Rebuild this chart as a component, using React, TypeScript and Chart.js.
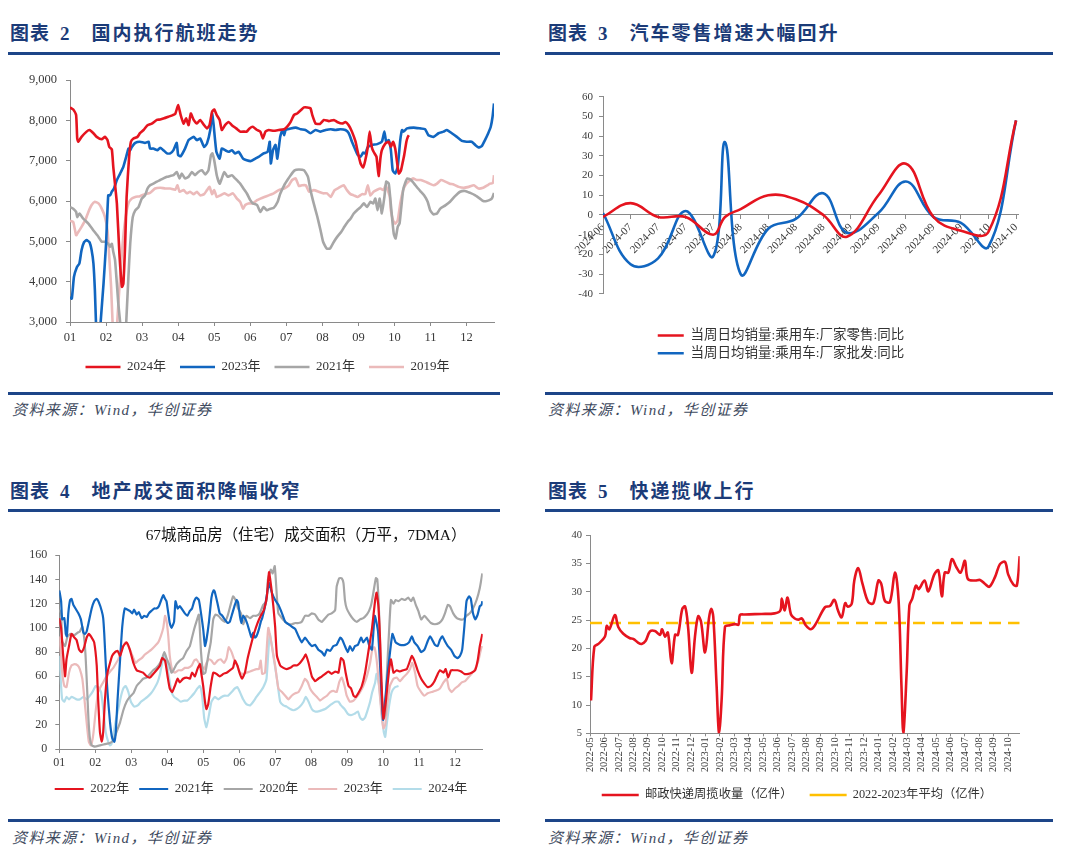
import React, { useEffect, useRef } from 'react';
import { Chart, registerables } from 'chart.js';

Chart.register(...registerables);

// ---------------- Data: 国内执行航班 (x = month offset from 01, y = flights) ----------------
const MONTH_TICKS = ['01', '02', '03', '04', '05', '06', '07', '08', '09', '10', '11', '12'];
const FLIGHT_NAMES = ['2024年', '2023年', '2021年', '2019年'];
const FLIGHTS_2024: [number, number][] = [
  [0, 8320], [0.09, 8270], [0.17, 8130], [0.2, 7550], [0.23, 7470], [0.32, 7590], [0.46, 7720], [0.54, 7760], [0.65, 7680], [0.74, 7590], [0.88, 7530], [0.97, 7590], [1.04, 7510], [1.09, 7340], [1.16, 7280], [1.2, 6850], [1.3, 5940], [1.37, 4700], [1.44, 3870], [1.48, 3950], [1.53, 4950], [1.57, 6100], [1.64, 7100], [1.69, 7470], [1.76, 7550], [1.87, 7590], [1.94, 7680], [2.04, 7760], [2.15, 7880], [2.27, 7920], [2.41, 8010], [2.5, 8020], [2.61, 8050], [2.73, 8090], [2.85, 8130], [2.92, 8160], [3.0, 8380], [3.07, 8130], [3.15, 7920], [3.22, 8050], [3.29, 7880], [3.35, 8170], [3.43, 8010], [3.52, 7920], [3.61, 8010], [3.72, 7880], [3.8, 7800], [3.87, 7880], [3.94, 8210], [4.0, 8270], [4.07, 8130], [4.15, 8010], [4.21, 7760], [4.3, 7880], [4.4, 7960], [4.49, 7880], [4.61, 7800], [4.72, 7720], [4.83, 7720], [4.9, 7720], [4.98, 7800], [5.07, 7840], [5.19, 7760], [5.28, 7720], [5.35, 7550], [5.42, 7720], [5.51, 7760], [5.65, 7740], [5.79, 7760], [5.94, 7780], [6.03, 7850], [6.12, 7960], [6.21, 8130], [6.3, 8170], [6.4, 8250], [6.49, 8320], [6.58, 8320], [6.67, 8300], [6.72, 8130], [6.81, 7920], [6.93, 7910], [7.04, 8010], [7.18, 7980], [7.32, 8010], [7.41, 7960], [7.55, 7920], [7.64, 7960], [7.73, 7880], [7.82, 7720], [7.92, 7470], [7.98, 7220], [8.06, 6930], [8.13, 6830], [8.19, 7010], [8.26, 7340], [8.31, 7720], [8.37, 7340], [8.42, 7220], [8.5, 7100], [8.56, 6620], [8.61, 7060], [8.65, 7260], [8.75, 7430], [8.84, 7470], [8.9, 7340], [8.96, 7470], [9.02, 7300], [9.07, 6970], [9.12, 6680], [9.18, 6760], [9.24, 7010], [9.27, 7140], [9.33, 7470], [9.37, 7590], [9.4, 7630],
];
const FLIGHTS_2023: [number, number][] = [
  [0, 3620], [0.05, 3580], [0.11, 4120], [0.19, 4360], [0.26, 4450], [0.32, 4780], [0.39, 4980], [0.46, 5030], [0.54, 4980], [0.6, 4780], [0.65, 4450], [0.69, 3790], [0.72, 3000], [0.76, 2400], [0.82, 2400], [0.85, 3000], [0.93, 3950], [1.0, 4940], [1.06, 6140], [1.11, 6140], [1.16, 6230], [1.22, 6310], [1.3, 6520], [1.39, 6680], [1.48, 6850], [1.56, 7100], [1.62, 7300], [1.67, 7260], [1.71, 7330], [1.81, 7440], [1.94, 7470], [2.08, 7440], [2.18, 7470], [2.22, 7300], [2.31, 7300], [2.43, 7260], [2.5, 7320], [2.59, 7260], [2.69, 7180], [2.78, 7180], [2.87, 7260], [2.96, 7440], [3.0, 7140], [3.07, 7110], [3.19, 7300], [3.29, 7510], [3.43, 7590], [3.52, 7510], [3.61, 7550], [3.72, 7340], [3.8, 7430], [3.89, 7760], [3.94, 8170], [3.98, 7920], [4.06, 7220], [4.15, 7050], [4.21, 7300], [4.3, 7260], [4.4, 7220], [4.49, 7260], [4.58, 7180], [4.68, 7220], [4.8, 7050], [4.9, 7010], [5.02, 6990], [5.14, 7050], [5.26, 7110], [5.37, 7180], [5.48, 7220], [5.54, 7470], [5.57, 6930], [5.63, 7260], [5.7, 7390], [5.75, 7050], [5.83, 7590], [5.89, 7760], [5.94, 7630], [5.98, 7760], [6.12, 7800], [6.26, 7820], [6.4, 7780], [6.53, 7760], [6.67, 7680], [6.81, 7760], [6.95, 7720], [7.09, 7760], [7.23, 7780], [7.36, 7760], [7.5, 7780], [7.64, 7760], [7.73, 7680], [7.82, 7470], [7.92, 7260], [7.98, 7140], [8.06, 7100], [8.13, 7200], [8.19, 7180], [8.26, 7340], [8.38, 7390], [8.52, 7410], [8.65, 7470], [8.72, 7720], [8.77, 7470], [8.84, 7510], [8.9, 7260], [8.95, 6760], [9.02, 6680], [9.09, 6850], [9.16, 7510], [9.21, 7760], [9.25, 7720], [9.35, 7800], [9.53, 7820], [9.71, 7800], [9.85, 7780], [9.94, 7630], [10.08, 7590], [10.22, 7680], [10.36, 7720], [10.45, 7760], [10.59, 7680], [10.73, 7590], [10.87, 7490], [11.0, 7470], [11.14, 7470], [11.24, 7390], [11.33, 7330], [11.42, 7360], [11.51, 7510], [11.6, 7680], [11.67, 7840], [11.72, 8090], [11.76, 8420],
];
const FLIGHTS_2021: [number, number][] = [
  [0, 5850], [0.09, 5810], [0.17, 5730], [0.2, 5600], [0.26, 5690], [0.37, 5560], [0.51, 5440], [0.65, 5270], [0.79, 5110], [0.88, 4990], [0.97, 4990], [1.06, 4940], [1.11, 4860], [1.16, 4940], [1.2, 4740], [1.25, 4530], [1.3, 3950], [1.34, 3450], [1.39, 3000], [1.45, 2400], [1.52, 2400], [1.56, 3000], [1.62, 4120], [1.67, 4940], [1.74, 5600], [1.81, 5770], [1.9, 5850], [1.99, 6060], [2.08, 6140], [2.15, 6310], [2.22, 6390], [2.31, 6430], [2.41, 6480], [2.5, 6520], [2.59, 6560], [2.69, 6600], [2.78, 6620], [2.87, 6640], [2.96, 6720], [3.04, 6560], [3.1, 6680], [3.19, 6560], [3.29, 6600], [3.38, 6720], [3.47, 6640], [3.56, 6720], [3.66, 6760], [3.75, 6660], [3.84, 6760], [3.91, 7140], [3.95, 7180], [4.0, 7010], [4.07, 6640], [4.15, 6430], [4.21, 6560], [4.28, 6720], [4.37, 6600], [4.49, 6640], [4.58, 6560], [4.72, 6430], [4.81, 6310], [4.91, 6180], [5.0, 6020], [5.07, 5940], [5.19, 5900], [5.28, 5730], [5.37, 5850], [5.46, 5770], [5.56, 5810], [5.65, 5830], [5.76, 5980], [5.83, 6180], [5.94, 6390], [6.03, 6520], [6.12, 6640], [6.23, 6760], [6.35, 6780], [6.49, 6760], [6.6, 6600], [6.67, 6270], [6.76, 5940], [6.86, 5610], [6.95, 5270], [7.02, 4990], [7.12, 4820], [7.21, 4820], [7.32, 4990], [7.41, 5110], [7.52, 5230], [7.61, 5360], [7.7, 5480], [7.78, 5560], [7.87, 5690], [7.96, 5770], [8.06, 5850], [8.15, 5940], [8.24, 5850], [8.33, 5980], [8.41, 5940], [8.47, 6060], [8.53, 5770], [8.59, 6060], [8.65, 5690], [8.72, 6100], [8.77, 6480], [8.84, 6430], [8.88, 6100], [8.93, 5610], [8.98, 5190], [9.03, 5070], [9.09, 5360], [9.14, 5440], [9.18, 5770], [9.24, 6270], [9.29, 6430], [9.36, 6560], [9.46, 6520], [9.58, 6390], [9.71, 6250], [9.82, 6140], [9.92, 5980], [9.99, 5770], [10.08, 5670], [10.18, 5690], [10.27, 5810], [10.41, 5890], [10.54, 5980], [10.68, 6120], [10.82, 6230], [10.96, 6250], [11.1, 6200], [11.24, 6140], [11.37, 6060], [11.46, 6000], [11.56, 6000], [11.63, 6020], [11.7, 6060], [11.76, 6200],
];
const FLIGHTS_2019: [number, number][] = [
  [0, 5510], [0.09, 5480], [0.17, 5150], [0.23, 5230], [0.32, 5360], [0.42, 5520], [0.51, 5730], [0.6, 5900], [0.69, 5980], [0.79, 5940], [0.88, 5810], [0.97, 5600], [1.04, 5270], [1.09, 4610], [1.14, 3870], [1.18, 3000], [1.22, 2400], [1.28, 2400], [1.31, 3000], [1.39, 4120], [1.46, 4940], [1.53, 5520], [1.62, 5940], [1.71, 6060], [1.81, 6100], [1.94, 6120], [2.08, 6170], [2.22, 6200], [2.36, 6310], [2.5, 6330], [2.64, 6310], [2.78, 6310], [2.92, 6280], [2.98, 6390], [3.04, 6230], [3.15, 6270], [3.24, 6190], [3.33, 6230], [3.43, 6170], [3.52, 6230], [3.61, 6140], [3.72, 6170], [3.8, 6270], [3.87, 6350], [3.94, 6170], [4.0, 6270], [4.07, 6100], [4.17, 6140], [4.28, 6190], [4.4, 6140], [4.52, 6190], [4.63, 6060], [4.72, 5980], [4.8, 5810], [4.86, 5900], [4.95, 5940], [5.07, 5940], [5.19, 6020], [5.28, 6060], [5.39, 6100], [5.51, 6140], [5.65, 6190], [5.79, 6270], [5.94, 6310], [6.07, 6390], [6.16, 6520], [6.26, 6560], [6.35, 6370], [6.44, 6390], [6.54, 6390], [6.63, 6230], [6.76, 6270], [6.9, 6230], [7.02, 6190], [7.13, 6190], [7.23, 6100], [7.34, 6270], [7.46, 6330], [7.59, 6390], [7.68, 6270], [7.78, 6170], [7.87, 6140], [7.98, 6100], [8.1, 6170], [8.19, 6170], [8.26, 6390], [8.33, 6140], [8.42, 6230], [8.52, 6280], [8.61, 6310], [8.7, 6270], [8.75, 6390], [8.81, 6270], [8.87, 6100], [8.9, 5770], [8.96, 5520], [9.02, 5440], [9.09, 5520], [9.16, 5940], [9.24, 6270], [9.3, 6390], [9.39, 6480], [9.51, 6560], [9.62, 6520], [9.73, 6520], [9.85, 6480], [9.97, 6430], [10.08, 6390], [10.18, 6430], [10.29, 6520], [10.41, 6480], [10.53, 6430], [10.64, 6410], [10.78, 6350], [10.92, 6330], [11.06, 6350], [11.2, 6390], [11.33, 6310], [11.46, 6330], [11.58, 6390], [11.65, 6430], [11.73, 6450], [11.76, 6640],
];

// ---------------- Data: 汽车零售 (x = weekly tick offset) ----------------
const CAR_WEEK_TICKS = ['2024-06', '2024-07', '2024-07', '2024-07', '2024-07', '2024-08', '2024-08', '2024-08', '2024-08', '2024-09', '2024-09', '2024-09', '2024-09', '2024-09', '2024-10', '2024-10'];
const CAR_NAMES = ['当周日均销量:乘用车:厂家零售:同比', '当周日均销量:乘用车:厂家批发:同比'];
const CAR_X = [0, 1, 2, 3, 4, 4.43, 5, 6, 7, 8, 8.86, 10, 11, 12, 13, 14, 15];
const CAR_RETAIL_YOY = [-1, 6, -1, -1, -10, -1, 3, 10, 8, 0, -11, 10, 26, -1, -8, -8.5, 48];
const CAR_WHOLESALE_YOY = [1, -25, -22, 2, -21, 37, -30, -7, -2, 11, -9, 1, 17, -1, -4, -16, 48];

// ---------------- Data: 67城商品房成交面积 (x = month offset, y = 万平) ----------------
const AREA_NAMES = ['2022年', '2021年', '2020年', '2023年', '2024年'];
const AREA_2022: [number, number][] = [
  [0, 108], [0.05, 100], [0.1, 80], [0.16, 60], [0.2, 74], [0.27, 85], [0.34, 95], [0.42, 92], [0.48, 90], [0.55, 82], [0.62, 80], [0.69, 84], [0.76, 92], [0.82, 95], [0.9, 92], [0.97, 88], [1.04, 69], [1.08, 41], [1.13, 14], [1.18, 6], [1.22, 14], [1.27, 41], [1.34, 63], [1.41, 71], [1.47, 77], [1.55, 80], [1.62, 81], [1.69, 77], [1.78, 85], [1.87, 88], [1.96, 82], [2.06, 71], [2.15, 65], [2.24, 64], [2.33, 63], [2.43, 60], [2.52, 59], [2.61, 62], [2.7, 65], [2.8, 69], [2.86, 75], [2.94, 73], [3.01, 60], [3.07, 50], [3.14, 47], [3.21, 52], [3.29, 58], [3.35, 55], [3.44, 58], [3.54, 59], [3.63, 58], [3.69, 63], [3.77, 60], [3.84, 66], [3.91, 70], [3.95, 62], [4.0, 52], [4.05, 39], [4.09, 33], [4.14, 37], [4.21, 52], [4.28, 63], [4.37, 62], [4.46, 60], [4.56, 62], [4.65, 63], [4.74, 65], [4.83, 67], [4.88, 73], [4.95, 69], [5.02, 62], [5.08, 58], [5.16, 63], [5.23, 74], [5.32, 85], [5.42, 96], [5.51, 104], [5.6, 110], [5.69, 115], [5.77, 126], [5.83, 146], [5.89, 134], [5.95, 118], [6.0, 101], [6.05, 77], [6.14, 69], [6.23, 67], [6.32, 66], [6.42, 67], [6.51, 69], [6.6, 69], [6.69, 71], [6.79, 75], [6.85, 78], [6.93, 71], [7.02, 60], [7.11, 56], [7.2, 58], [7.3, 60], [7.39, 62], [7.48, 64], [7.57, 62], [7.67, 64], [7.76, 63], [7.83, 75], [7.9, 73], [7.96, 63], [8.04, 52], [8.11, 50], [8.18, 44], [8.24, 43], [8.31, 46], [8.41, 52], [8.5, 63], [8.59, 80], [8.69, 99], [8.78, 123], [8.82, 129], [8.87, 118], [8.92, 88], [8.96, 52], [9.01, 25], [9.08, 40], [9.17, 66], [9.22, 74], [9.29, 63], [9.38, 65], [9.47, 64], [9.56, 65], [9.66, 66], [9.75, 73], [9.8, 77], [9.87, 73], [9.96, 65], [10.06, 58], [10.15, 54], [10.24, 51], [10.33, 52], [10.43, 56], [10.52, 62], [10.58, 65], [10.68, 63], [10.74, 66], [10.81, 59], [10.89, 65], [10.98, 65], [11.07, 65], [11.17, 64], [11.26, 62], [11.37, 62], [11.46, 63], [11.56, 65], [11.63, 73], [11.69, 85], [11.76, 95],
];
const AREA_2021: [number, number][] = [
  [0, 131], [0.05, 122], [0.08, 107], [0.14, 108], [0.18, 95], [0.21, 93], [0.25, 112], [0.3, 123], [0.34, 124], [0.39, 119], [0.45, 116], [0.53, 112], [0.6, 107], [0.67, 96], [0.71, 95], [0.76, 97], [0.82, 105], [0.9, 116], [0.97, 122], [1.04, 124], [1.1, 121], [1.18, 114], [1.22, 108], [1.25, 95], [1.29, 71], [1.34, 47], [1.41, 22], [1.47, 9], [1.53, 6], [1.57, 14], [1.62, 41], [1.69, 74], [1.75, 101], [1.82, 116], [1.9, 115], [1.96, 114], [2.03, 112], [2.08, 115], [2.15, 111], [2.21, 113], [2.29, 108], [2.36, 110], [2.43, 109], [2.49, 112], [2.56, 114], [2.64, 116], [2.7, 116], [2.77, 118], [2.82, 122], [2.89, 127], [2.94, 124], [2.98, 122], [3.03, 112], [3.07, 104], [3.12, 100], [3.19, 105], [3.23, 122], [3.29, 116], [3.35, 118], [3.42, 115], [3.49, 112], [3.56, 110], [3.63, 114], [3.69, 116], [3.75, 122], [3.81, 125], [3.88, 123], [3.94, 112], [4.0, 99], [4.05, 85], [4.09, 90], [4.16, 105], [4.23, 125], [4.29, 131], [4.32, 130], [4.4, 120], [4.46, 112], [4.53, 110], [4.6, 107], [4.68, 104], [4.74, 105], [4.81, 112], [4.88, 119], [4.93, 123], [4.97, 121], [5.02, 110], [5.06, 104], [5.11, 110], [5.18, 107], [5.23, 103], [5.3, 96], [5.34, 92], [5.39, 96], [5.44, 92], [5.48, 93], [5.55, 99], [5.6, 105], [5.64, 108], [5.72, 118], [5.83, 137], [5.91, 129], [6.0, 123], [6.09, 119], [6.19, 112], [6.28, 105], [6.37, 103], [6.46, 101], [6.56, 99], [6.65, 93], [6.74, 88], [6.83, 92], [6.93, 88], [7.02, 85], [7.11, 86], [7.2, 82], [7.3, 80], [7.37, 77], [7.44, 82], [7.53, 81], [7.62, 85], [7.71, 86], [7.81, 92], [7.87, 90], [7.94, 85], [8.02, 80], [8.08, 85], [8.15, 81], [8.22, 85], [8.3, 86], [8.39, 92], [8.45, 88], [8.55, 92], [8.61, 86], [8.69, 82], [8.77, 110], [8.86, 97], [8.95, 51], [9.0, 24], [9.12, 60], [9.26, 95], [9.35, 88], [9.47, 86], [9.61, 86], [9.72, 88], [9.8, 93], [9.87, 88], [9.96, 85], [10.06, 80], [10.15, 82], [10.24, 89], [10.31, 93], [10.37, 90], [10.44, 86], [10.52, 85], [10.58, 90], [10.65, 93], [10.72, 89], [10.8, 85], [10.89, 82], [10.98, 77], [11.07, 75], [11.14, 77], [11.2, 82], [11.26, 101], [11.32, 122], [11.39, 126], [11.44, 124], [11.5, 112], [11.56, 107], [11.63, 111], [11.69, 118], [11.74, 119], [11.76, 122],
];
const AREA_2020: [number, number][] = [
  [0, 115], [0.05, 112], [0.08, 89], [0.16, 85], [0.23, 93], [0.32, 95], [0.42, 94], [0.51, 96], [0.57, 97], [0.64, 101], [0.69, 92], [0.73, 77], [0.77, 52], [0.81, 25], [0.85, 9], [0.9, 3], [0.99, 2], [1.13, 3], [1.27, 4], [1.41, 5], [1.5, 7], [1.59, 14], [1.69, 22], [1.78, 32], [1.87, 39], [1.96, 43], [2.06, 46], [2.15, 52], [2.24, 55], [2.33, 58], [2.43, 59], [2.52, 62], [2.61, 65], [2.7, 67], [2.8, 71], [2.86, 75], [2.92, 80], [2.98, 75], [3.05, 70], [3.12, 63], [3.19, 66], [3.26, 70], [3.35, 73], [3.44, 75], [3.54, 81], [3.63, 85], [3.69, 92], [3.75, 99], [3.81, 105], [3.88, 111], [3.94, 80], [4.0, 62], [4.06, 63], [4.14, 77], [4.21, 88], [4.28, 107], [4.34, 111], [4.42, 110], [4.51, 107], [4.6, 105], [4.68, 110], [4.77, 120], [4.83, 126], [4.9, 123], [4.97, 116], [5.05, 112], [5.11, 103], [5.2, 110], [5.3, 108], [5.39, 110], [5.48, 110], [5.57, 112], [5.67, 119], [5.76, 122], [5.8, 140], [5.88, 148], [5.93, 145], [5.99, 151], [6.05, 125], [6.09, 112], [6.19, 108], [6.28, 105], [6.37, 103], [6.46, 103], [6.56, 104], [6.65, 104], [6.74, 105], [6.83, 110], [6.93, 110], [7.02, 112], [7.11, 111], [7.2, 107], [7.3, 105], [7.39, 108], [7.48, 111], [7.57, 112], [7.67, 115], [7.71, 134], [7.78, 141], [7.85, 141], [7.9, 137], [7.94, 123], [7.99, 116], [8.08, 111], [8.18, 107], [8.27, 105], [8.36, 107], [8.45, 108], [8.55, 111], [8.61, 114], [8.67, 119], [8.73, 129], [8.8, 141], [8.84, 140], [8.89, 112], [8.94, 63], [9.01, 25], [9.06, 28], [9.1, 58], [9.17, 99], [9.22, 123], [9.29, 120], [9.35, 123], [9.43, 122], [9.52, 124], [9.61, 123], [9.7, 125], [9.78, 122], [9.84, 125], [9.91, 119], [9.98, 114], [10.06, 107], [10.15, 110], [10.24, 107], [10.33, 104], [10.44, 103], [10.56, 104], [10.65, 107], [10.72, 112], [10.8, 119], [10.86, 118], [10.95, 112], [11.05, 108], [11.14, 107], [11.23, 107], [11.32, 110], [11.41, 112], [11.5, 116], [11.6, 123], [11.69, 133], [11.76, 145],
];
const AREA_2023: [number, number][] = [
  [0, 93], [0.05, 77], [0.08, 63], [0.14, 52], [0.2, 51], [0.27, 63], [0.34, 69], [0.42, 70], [0.51, 69], [0.57, 66], [0.64, 58], [0.69, 44], [0.76, 22], [0.82, 6], [0.88, 3], [0.94, 11], [1.01, 31], [1.08, 47], [1.16, 52], [1.22, 55], [1.29, 59], [1.36, 62], [1.44, 65], [1.5, 67], [1.56, 70], [1.64, 74], [1.71, 80], [1.78, 85], [1.84, 88], [1.92, 85], [2.06, 75], [2.12, 71], [2.19, 73], [2.29, 75], [2.38, 78], [2.47, 80], [2.56, 82], [2.66, 85], [2.75, 88], [2.82, 93], [2.89, 100], [2.94, 110], [2.98, 106], [3.03, 93], [3.07, 77], [3.14, 65], [3.21, 63], [3.31, 65], [3.4, 65], [3.49, 67], [3.58, 67], [3.68, 69], [3.75, 73], [3.81, 74], [3.88, 71], [3.95, 69], [4.03, 66], [4.09, 71], [4.16, 74], [4.23, 73], [4.31, 70], [4.4, 73], [4.49, 74], [4.58, 71], [4.65, 75], [4.71, 84], [4.79, 80], [4.86, 74], [4.93, 70], [5.02, 63], [5.11, 62], [5.2, 63], [5.3, 64], [5.39, 65], [5.48, 66], [5.55, 66], [5.6, 73], [5.64, 62], [5.72, 63], [5.81, 100], [5.91, 85], [6.0, 69], [6.09, 50], [6.19, 47], [6.28, 44], [6.37, 41], [6.46, 44], [6.56, 46], [6.65, 47], [6.74, 52], [6.83, 58], [6.91, 55], [6.97, 50], [7.06, 46], [7.16, 43], [7.25, 40], [7.34, 42], [7.44, 44], [7.53, 47], [7.62, 48], [7.71, 47], [7.78, 55], [7.85, 59], [7.93, 52], [7.99, 44], [8.08, 39], [8.18, 40], [8.27, 43], [8.36, 47], [8.45, 52], [8.55, 60], [8.64, 71], [8.7, 82], [8.76, 84], [8.82, 74], [8.89, 52], [8.96, 28], [9.01, 17], [9.06, 20], [9.13, 39], [9.19, 52], [9.29, 58], [9.38, 59], [9.47, 56], [9.56, 59], [9.66, 62], [9.75, 66], [9.81, 71], [9.89, 63], [9.96, 52], [10.06, 47], [10.15, 44], [10.24, 46], [10.35, 47], [10.46, 48], [10.58, 50], [10.68, 55], [10.77, 58], [10.83, 50], [10.91, 47], [11.0, 50], [11.09, 52], [11.19, 55], [11.28, 56], [11.37, 59], [11.46, 62], [11.56, 66], [11.65, 73], [11.72, 82], [11.76, 85],
];
const AREA_2024: [number, number][] = [
  [0, 77], [0.05, 52], [0.08, 41], [0.14, 39], [0.2, 43], [0.27, 41], [0.34, 43], [0.42, 42], [0.48, 41], [0.57, 41], [0.67, 43], [0.76, 41], [0.85, 44], [0.94, 48], [1.01, 52], [1.08, 51], [1.16, 47], [1.22, 33], [1.29, 14], [1.36, 6], [1.41, 3], [1.45, 4], [1.5, 11], [1.56, 22], [1.64, 33], [1.71, 43], [1.78, 50], [1.84, 52], [1.92, 47], [1.99, 39], [2.08, 35], [2.18, 36], [2.27, 39], [2.36, 41], [2.45, 43], [2.55, 46], [2.64, 50], [2.73, 55], [2.8, 62], [2.86, 71], [2.92, 77], [2.98, 73], [3.05, 59], [3.12, 47], [3.19, 43], [3.29, 41], [3.38, 39], [3.47, 40], [3.56, 40], [3.66, 43], [3.75, 46], [3.84, 50], [3.91, 52], [3.97, 44], [4.03, 25], [4.09, 18], [4.16, 28], [4.23, 39], [4.32, 43], [4.42, 41], [4.51, 43], [4.6, 44], [4.69, 44], [4.79, 47], [4.88, 50], [4.95, 51], [5.02, 47], [5.11, 41], [5.2, 37], [5.3, 36], [5.39, 39], [5.48, 43], [5.58, 47], [5.67, 51], [5.76, 58], [5.85, 95], [5.95, 77], [6.05, 58], [6.14, 39], [6.23, 36], [6.32, 35], [6.42, 33], [6.51, 32], [6.6, 33], [6.69, 35], [6.79, 39], [6.85, 43], [6.93, 39], [7.02, 33], [7.11, 31], [7.2, 31], [7.3, 32], [7.39, 33], [7.48, 35], [7.57, 37], [7.67, 39], [7.76, 39], [7.83, 36], [7.93, 33], [8.02, 29], [8.11, 28], [8.2, 29], [8.3, 31], [8.36, 26], [8.43, 24], [8.5, 26], [8.57, 32], [8.64, 39], [8.7, 47], [8.78, 55], [8.82, 62], [8.89, 52], [8.96, 31], [9.02, 14], [9.06, 10], [9.1, 20], [9.17, 36], [9.24, 47], [9.33, 51], [9.43, 52],
];

// ---------------- Data: 快递揽收 (x = month offset from 2022-05, y = 亿件) ----------------
const EXPRESS_MONTH_TICKS = [
  '2022-05', '2022-06', '2022-07', '2022-08', '2022-09', '2022-10', '2022-11', '2022-12',
  '2023-01', '2023-02', '2023-03', '2023-04', '2023-05', '2023-06', '2023-07', '2023-08', '2023-09', '2023-10', '2023-11', '2023-12',
  '2024-01', '2024-02', '2024-03', '2024-04', '2024-05', '2024-06', '2024-07', '2024-08', '2024-09', '2024-10',
];
const EXPRESS_NAMES = ['邮政快递周揽收量（亿件）', '2022-2023年平均（亿件）'];
const EXPRESS_WEEKLY: [number, number][] = [
  [0.07, 10.8], [0.3, 20.3], [0.58, 20.8], [1.04, 22.1], [1.16, 24.0], [1.34, 23.4], [1.73, 25.9], [1.96, 23.8], [2.31, 22.6], [2.77, 21.8], [3.0, 21.7], [3.35, 21.0], [3.58, 20.8], [3.85, 21.3], [4.16, 23.0], [4.5, 23.1], [4.85, 22.4], [5.0, 23.4], [5.2, 22.1], [5.4, 22.8], [5.66, 17.4], [5.9, 22.4], [6.1, 22.4], [6.4, 27.0], [6.6, 27.4], [6.8, 23.8], [7.05, 15.7], [7.28, 22.1], [7.5, 25.7], [7.7, 24.7], [7.98, 19.3], [8.25, 25.3], [8.4, 27.0], [8.55, 25.6], [8.78, 13.4], [8.95, 5.0], [9.13, 11.0], [9.36, 23.8], [9.7, 24.1], [10.06, 24.3], [10.3, 24.2], [10.4, 25.9], [10.75, 26.0], [11.9, 26.1], [12.8, 26.2], [13.2, 26.7], [13.3, 28.8], [13.5, 26.7], [13.7, 29.0], [13.94, 26.0], [14.2, 25.3], [14.45, 25.1], [14.7, 25.3], [14.96, 24.1], [15.3, 23.4], [15.6, 24.1], [16.3, 27.3], [16.64, 27.5], [16.95, 28.6], [17.2, 26.7], [17.45, 25.5], [17.7, 28.0], [17.87, 27.4], [18.15, 27.9], [18.33, 32.0], [18.6, 34.2], [18.9, 31.4], [19.3, 28.2], [19.65, 28.0], [20.0, 32.0], [20.2, 31.4], [20.45, 28.4], [20.8, 28.2], [21.15, 33.4], [21.4, 28.5], [21.6, 13.4], [21.73, 5.0], [21.96, 15.7], [22.15, 27.6], [22.35, 28.8], [22.6, 31.1], [22.8, 30.5], [23.2, 32.0], [23.46, 30.1], [23.88, 33.1], [24.16, 33.8], [24.4, 29.2], [24.6, 33.4], [24.85, 33.4], [25.1, 35.8], [25.4, 34.4], [25.7, 33.4], [26.0, 35.5], [26.2, 32.3], [26.7, 32.0], [27.05, 32.1], [27.4, 31.4], [27.7, 30.9], [28.1, 32.7], [28.43, 34.9], [28.78, 35.3], [29.0, 33.1], [29.36, 31.3], [29.6, 31.1], [29.8, 36.3],
];
const EXPRESS_AVG_2022_2023 = 24.5;

// ---------------- Styling ----------------
const RED = '#E5141F';
const BLUE = '#1166C0';
const GRAY = '#A6A6A6';
const PINK = '#EBBABA';
const LIGHT_BLUE = '#B3DCE9';
const ORANGE = '#FFC000';
const AXIS_COLOR = '#8A8A8A';
const TICK_COLOR = '#3A3A3A';
const NUM_FONT = "'Liberation Serif', 'Times New Roman', serif";
const LEGEND_FONT = "'Liberation Serif', 'Noto Sans CJK SC', serif";
const TITLE_COLOR = '#1B3B78';
const RULE_COLOR = '#1D4588';

const xy = (pts: [number, number][]) => pts.map(([x, y]) => ({ x, y }));

const lineSet = (label: string, pts: { x: number; y: number }[], color: string, width: number, tension: number, extra: any = {}) => ({
  label,
  data: pts,
  borderColor: color,
  backgroundColor: color,
  borderWidth: width,
  pointRadius: 0,
  pointHoverRadius: 0,
  tension,
  fill: false,
  ...extra,
});

const tickGrid = (len: number) => ({
  display: true,
  drawOnChartArea: false,
  drawTicks: true,
  tickLength: len,
  color: AXIS_COLOR,
  lineWidth: 1,
});
const axisBorder = { display: true, color: AXIS_COLOR, width: 1 };

const legendOpts = (lineLen: number, fontSize: number, padding: number, extra: any = {}) => ({
  display: true,
  position: 'bottom',
  labels: {
    usePointStyle: true,
    pointStyle: 'line',
    pointStyleWidth: lineLen,
    color: '#333333',
    font: { family: LEGEND_FONT, size: fontSize },
    padding,
  },
  ...extra,
});

const fixedTicks = (labels: string[]) => (scale: any) => {
  scale.ticks = labels.map((_, i) => ({ value: i }));
};

// moves the (bottom) legend block sideways so it sits where the reference puts it
const legendShift = (dx: number) => ({
  id: 'legendShift',
  afterLayout(chart: any) {
    const lg = chart.legend;
    if (lg) {
      lg.left += dx;
      lg.right += dx;
    }
  },
});

// ---------------- Chart configs ----------------
const flightsConfig = (): any => ({
  type: 'line',
  data: {
    datasets: [
      lineSet(FLIGHT_NAMES[0], xy(FLIGHTS_2024), RED, 2.6, 0.15),
      lineSet(FLIGHT_NAMES[1], xy(FLIGHTS_2023), BLUE, 2.6, 0.15),
      lineSet(FLIGHT_NAMES[2], xy(FLIGHTS_2021), GRAY, 2.6, 0.15),
      lineSet(FLIGHT_NAMES[3], xy(FLIGHTS_2019), PINK, 2.6, 0.15),
    ],
  },
  plugins: [legendShift(20.5)],
  options: {
    animation: false,
    responsive: false,
    devicePixelRatio: 1,
    layout: { padding: { left: 0, right: 18, top: 20, bottom: 6.5 } },
    plugins: { legend: legendOpts(35, 13, 14), tooltip: { enabled: false } },
    scales: {
      x: {
        type: 'linear',
        min: 0,
        max: 11.76,
        afterBuildTicks: fixedTicks(MONTH_TICKS),
        afterFit: (s: any) => { s.height = 24.5; },
        ticks: { callback: (_v: any, i: number) => MONTH_TICKS[i], autoSkip: false, maxRotation: 0, color: TICK_COLOR, font: { family: NUM_FONT, size: 12.5 }, padding: 4 },
        grid: tickGrid(4),
        border: axisBorder,
      },
      y: {
        type: 'linear',
        min: 3000,
        max: 9000,
        afterFit: (s: any) => { s.width = 70; },
        ticks: { stepSize: 1000, color: TICK_COLOR, font: { family: NUM_FONT, size: 12.5 }, padding: 9 },
        grid: tickGrid(4),
        border: axisBorder,
      },
    },
  },
});

const carConfig = (): any => ({
  type: 'line',
  data: {
    datasets: [
      lineSet(CAR_NAMES[0], CAR_X.map((x, i) => ({ x, y: CAR_RETAIL_YOY[i] })), RED, 2.6, 0.4),
      lineSet(CAR_NAMES[1], CAR_X.map((x, i) => ({ x, y: CAR_WHOLESALE_YOY[i] })), BLUE, 2.6, 0.4),
    ],
  },
  options: {
    animation: false,
    responsive: false,
    devicePixelRatio: 1,
    layout: { padding: { left: 3.2, right: 11.2, top: 36.7, bottom: 6 } },
    plugins: {
      legend: legendOpts(26, 13.5, 4.2, { title: { display: true, text: '', padding: { top: 20.75, bottom: 0 }, font: { size: 10, lineHeight: 1 } } }),
      tooltip: { enabled: false },
    },
    scales: {
      x: {
        type: 'linear',
        position: { y: 0 },
        min: 0,
        max: 15.1,
        afterBuildTicks: fixedTicks(CAR_WEEK_TICKS),
        ticks: { callback: (_v: any, i: number) => CAR_WEEK_TICKS[i], autoSkip: false, minRotation: 45, maxRotation: 45, color: TICK_COLOR, font: { family: NUM_FONT, size: 11 }, padding: 2 },
        grid: tickGrid(4),
        border: axisBorder,
      },
      y: {
        type: 'linear',
        min: -40,
        max: 60,
        afterFit: (s: any) => { s.width = 59.8; },
        ticks: { stepSize: 10, color: TICK_COLOR, font: { family: NUM_FONT, size: 11 }, padding: 6 },
        grid: tickGrid(4),
        border: axisBorder,
      },
    },
  },
});

const areaConfig = (): any => ({
  type: 'line',
  data: {
    datasets: [
      lineSet(AREA_NAMES[0], xy(AREA_2022), RED, 2.2, 0.15),
      lineSet(AREA_NAMES[1], xy(AREA_2021), BLUE, 2.2, 0.15),
      lineSet(AREA_NAMES[2], xy(AREA_2020), GRAY, 2.2, 0.15),
      lineSet(AREA_NAMES[3], xy(AREA_2023), PINK, 2.2, 0.15),
      lineSet(AREA_NAMES[4], xy(AREA_2024), LIGHT_BLUE, 2.2, 0.15),
    ],
  },
  plugins: [legendShift(19.6)],
  options: {
    animation: false,
    responsive: false,
    devicePixelRatio: 1,
    layout: { padding: { left: 0, right: 17.3, top: 13.3, bottom: 2.5 } },
    plugins: { legend: legendOpts(29, 13, 10), tooltip: { enabled: false } },
    scales: {
      x: {
        type: 'linear',
        min: 0,
        max: 11.77,
        afterBuildTicks: fixedTicks(MONTH_TICKS),
        afterFit: (s: any) => { s.height = 23.5; },
        ticks: { callback: (_v: any, i: number) => MONTH_TICKS[i], autoSkip: false, maxRotation: 0, color: TICK_COLOR, font: { family: NUM_FONT, size: 12 }, padding: 3 },
        grid: tickGrid(4),
        border: axisBorder,
      },
      y: {
        type: 'linear',
        min: 0,
        max: 160,
        afterFit: (s: any) => { s.width = 59.3; },
        ticks: { stepSize: 20, color: TICK_COLOR, font: { family: NUM_FONT, size: 12 }, padding: 8 },
        grid: tickGrid(4),
        border: axisBorder,
      },
    },
  },
});

const expressConfig = (): any => {
  const lastX = EXPRESS_WEEKLY[EXPRESS_WEEKLY.length - 1][0];
  return {
    type: 'line',
    data: {
      datasets: [
        lineSet(EXPRESS_NAMES[0], xy(EXPRESS_WEEKLY), RED, 2.6, 0.35),
        lineSet(EXPRESS_NAMES[1], [{ x: 0, y: EXPRESS_AVG_2022_2023 }, { x: lastX, y: EXPRESS_AVG_2022_2023 }], ORANGE, 2.6, 0, { borderDash: [12, 7] }),
      ],
    },
    plugins: [legendShift(14.6)],
    options: {
      animation: false,
      responsive: false,
      devicePixelRatio: 1,
      layout: { padding: { left: 0, right: 5.3, top: 7.7, bottom: 3.85 } },
      plugins: { legend: legendOpts(37, 12.3, 17.2), tooltip: { enabled: false } },
      scales: {
        x: {
          type: 'linear',
          min: 0,
          max: 29.8,
          afterBuildTicks: fixedTicks(EXPRESS_MONTH_TICKS),
          afterFit: (s: any) => { s.height = 38.35; },
          ticks: { callback: (_v: any, i: number) => EXPRESS_MONTH_TICKS[i], autoSkip: false, minRotation: 90, maxRotation: 90, color: TICK_COLOR, font: { family: NUM_FONT, size: 10.5 }, padding: 1 },
          grid: tickGrid(3),
          border: axisBorder,
        },
        y: {
          type: 'linear',
          min: 5,
          max: 40,
          afterFit: (s: any) => { s.width = 45; },
          ticks: { stepSize: 5, color: TICK_COLOR, font: { family: NUM_FONT, size: 10.5 }, padding: 4 },
          grid: tickGrid(4),
          border: axisBorder,
        },
      },
    },
  };
};

// ---------------- Components ----------------
function ChartCanvas({ left, top, width, height, build }: { left: number; top: number; width: number; height: number; build: () => any }) {
  const ref = useRef<HTMLCanvasElement | null>(null);
  useEffect(() => {
    if (!ref.current) return;
    const chart = new Chart(ref.current, build());
    return () => chart.destroy();
  }, []);
  return <canvas ref={ref} width={width} height={height} style={{ position: 'absolute', left, top, width, height }} />;
}

function SectionTitle({ x, y, num, text }: { x: number; y: number; num: string; text: string }) {
  return (
    <div style={{ position: 'absolute', left: x, top: y, lineHeight: '22px', height: 22, fontSize: 19, fontWeight: 700, color: TITLE_COLOR, fontFamily: "'Noto Sans CJK SC', sans-serif", whiteSpace: 'nowrap' }}>
      <span style={{ letterSpacing: 1 }}>图表</span>
      <span style={{ marginLeft: 10, fontFamily: "'Liberation Serif', serif" }}>{num}</span>
      <span style={{ marginLeft: 22, letterSpacing: 2 }}>{text}</span>
    </div>
  );
}

function Rule({ x, y, w }: { x: number; y: number; w: number }) {
  return <div style={{ position: 'absolute', left: x, top: y, width: w, height: 2.5, background: RULE_COLOR }} />;
}

function Source({ x, y }: { x: number; y: number }) {
  return (
    <div style={{ position: 'absolute', left: x, top: y, lineHeight: '18px', fontSize: 15, fontStyle: 'italic', color: '#3E4A5E', letterSpacing: 1.4, fontFamily: "'Liberation Serif', 'Noto Sans CJK SC', serif", whiteSpace: 'nowrap' }}>
      资料来源：Wind，华创证券
    </div>
  );
}

export default function App() {
  return (
    <div style={{ position: 'absolute', left: 0, top: 0, width: 1080, height: 862, background: '#ffffff', overflow: 'hidden' }}>
      <SectionTitle x={10} y={21} num="2" text="国内执行航班走势" />
      <SectionTitle x={548} y={21} num="3" text="汽车零售增速大幅回升" />
      <Rule x={8} y={52} w={492} />
      <Rule x={545} y={52} w={508} />

      <ChartCanvas left={0} top={60} width={512} height={330} build={flightsConfig} />
      <ChartCanvas left={540} top={60} width={490} height={316} build={carConfig} />

      <Rule x={8} y={392} w={492} />
      <Rule x={545} y={392} w={508} />
      <Source x={12} y={401} />
      <Source x={548} y={401} />

      <SectionTitle x={10} y={479} num="4" text="地产成交面积降幅收窄" />
      <SectionTitle x={548} y={479} num="5" text="快递揽收上行" />
      <Rule x={8} y={509} w={492} />
      <Rule x={545} y={509} w={508} />

      <ChartCanvas left={0} top={540} width={500} height={268} build={areaConfig} />
      <ChartCanvas left={545} top={525} width={480} height={290} build={expressConfig} />
      <div style={{ position: 'absolute', left: 0, top: 526, width: 612, textAlign: 'center', lineHeight: '18px', fontSize: 15.4, color: '#111111', fontFamily: "'Liberation Serif', 'Noto Sans CJK SC', serif", whiteSpace: 'nowrap' }}>
        67城商品房（住宅）成交面积（万平，7DMA）
      </div>

      <Rule x={8} y={819} w={492} />
      <Rule x={545} y={819} w={508} />
      <Source x={12} y={829} />
      <Source x={548} y={829} />
    </div>
  );
}
